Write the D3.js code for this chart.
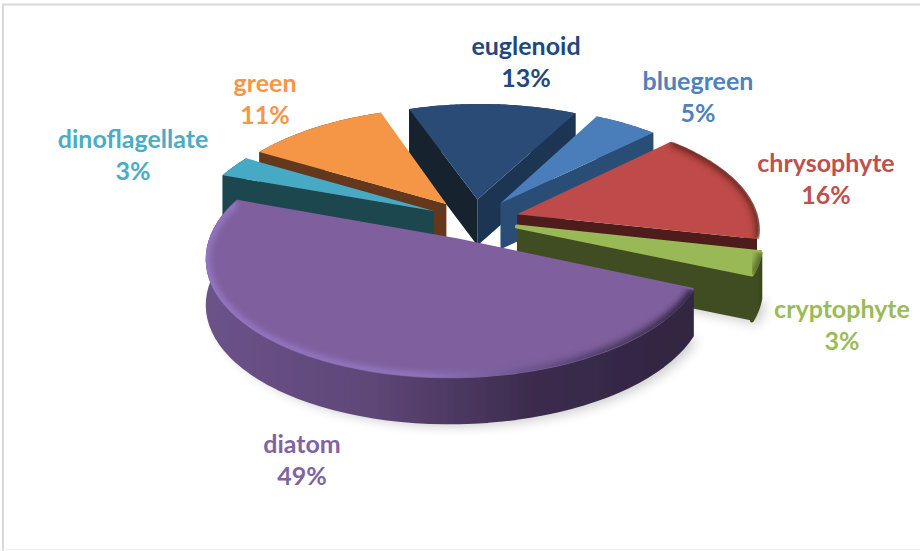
<!DOCTYPE html>
<html>
<head>
<meta charset="utf-8">
<script src="https://cdn.jsdelivr.net/npm/d3@7"></script>
<style>
  html, body { margin: 0; padding: 0; background: #fff; }
  text { font-family: Lato, sans-serif; font-weight: 700; font-size: 25px; text-anchor: middle; }
</style>
</head>
<body>
<div id="chart"></div>
<script>
// values, clockwise from the bluegreen slice
const categories = ["bluegreen", "chrysophyte", "cryptophyte", "diatom", "dinoflagellate", "green", "euglenoid"];
const percents = [5, 16, 3, 49, 3, 11, 13];

const topColors = ["#4a7ebb", "#be4b48", "#98b954", "#7f5f9e", "#46aac5", "#f49644", "#2a4c76"];
const wallColors = ["#2c4d75", "#4f1c1b", "#404e21", "#5a4372", "#1f4650", "#64391b", "#1e3452"];
const labelColors = ["#4f81bd", "#c0504d", "#9bbb59", "#8064a2", "#4bacc6", "#f79646", "#1f497d"];

const width = 920, height = 551;

// back slices first, diatom lies on top of everything
const drawOrder = ["euglenoid", "green", "dinoflagellate", "bluegreen", "chrysophyte", "cryptophyte", "diatom"];

// label centres, in pixels
const labelPos = {
  bluegreen: [698, 90],
  chrysophyte: [826, 172],
  cryptophyte: [842, 318],
  diatom: [302, 453],
  dinoflagellate: [133, 148],
  green: [265, 92],
  euglenoid: [526, 55]
};

const cx = 474, cy = 220;
const radius = 240, explode = 45, depth = 46;
const tilt = 0.47, persp = 0.13 / radius, skew = 0.015;

// slices with a rounded front edge
const rounded = ["diatom", "cryptophyte"];

const svg = d3.select("#chart").append("svg")
  .attr("width", width)
  .attr("height", height)
  .style("display", "block");

const defs = svg.append("defs");
defs.append("filter").attr("id", "blurBig")
  .attr("x", "-20%").attr("y", "-20%").attr("width", "140%").attr("height", "140%")
  .append("feGaussianBlur").attr("stdDeviation", 6);
defs.append("filter").attr("id", "blurRim")
  .attr("x", "-20%").attr("y", "-20%").attr("width", "140%").attr("height", "140%")
  .append("feGaussianBlur").attr("stdDeviation", 3);
defs.append("filter").attr("id", "soft")
  .attr("x", "-5%").attr("y", "-5%").attr("width", "110%").attr("height", "110%")
  .append("feGaussianBlur").attr("stdDeviation", 0.5);

// chart frame
svg.append("path")
  .attr("d", `M3,${height} V4.5 H${width}`)
  .attr("fill", "none").attr("stroke", "#d9d9d9").attr("stroke-width", 2);
svg.append("line")
  .attr("x1", 3).attr("x2", width).attr("y1", 549.5).attr("y2", 549.5)
  .attr("stroke", "#f2f2f2");

// ground plane -> screen, the wall height stays the same all round
function project(x, y, z) {
  const s = 1 / (1 + persp * y);
  return [cx + (x + skew * y) * s, cy - y * tilt * s + z];
}

const line = d3.line().curve(d3.curveLinearClosed);
const openLine = d3.line();

const arcs = d3.pie().sort(null).value(d => d)
  .startAngle(27 * Math.PI / 180)
  .endAngle((27 + 360) * Math.PI / 180)(percents);

const slices = arcs.map((a, i) => {
  const mid = (a.startAngle + a.endAngle) / 2;
  const ox = explode * Math.sin(mid), oy = explode * Math.cos(mid);
  const steps = d3.range(0, 61).map(k => a.startAngle + (a.endAngle - a.startAngle) * k / 60);
  const at = (r, t, z) => project(ox + r * Math.sin(t), oy + r * Math.cos(t), z);
  return {
    name: categories[i], i, a,
    apexTop: project(ox, oy, 0),
    apexBottom: project(ox, oy, depth),
    rimTop: steps.map(t => at(radius, t, 0)),
    rimBottom: steps.map(t => at(radius, t, depth)),
    rimOuter: steps.map(t => at(radius + 2, t, 0))
  };
});

// wall shading, left to right
const shade = {
  diatom: ["#6b5288", "#5f4778", "#3c2c4e", "#30253f"],
  cryptophyte: ["#404e21", "#404e21", "#404e21", "#3a471e"]
};
Object.entries(shade).forEach(([name, stops]) => {
  const g = defs.append("linearGradient").attr("id", "wall-" + name);
  stops.forEach((c, k) => g.append("stop").attr("offset", k / (stops.length - 1)).attr("stop-color", c));
});
const rimStops = defs.append("linearGradient").attr("id", "rim-diatom");
[["0", "#9478c4"], ["0.45", "#9277be"], ["0.72", "#5e4a7c"], ["1", "#2c2238"]]
  .forEach(d => rimStops.append("stop").attr("offset", d[0]).attr("stop-color", d[1]));

// signed area tells whether a side wall faces us
function facing(p) {
  return d3.polygonArea(p) > 0;
}

// soft shadow under the front slices
["diatom", "cryptophyte"].forEach(name => {
  const s = slices.find(d => d.name === name);
  svg.append("path")
    .attr("d", line(s.rimBottom.map(p => [p[0] + 6, p[1] + 4]).concat([s.apexBottom])))
    .attr("fill", "#000").attr("opacity", 0.2)
    .attr("filter", "url(#blurBig)");
});

drawOrder.forEach(name => {
  const s = slices.find(d => d.name === name);
  const g = svg.append("g").attr("class", "slice").attr("filter", "url(#soft)");
  const n = s.rimTop.length - 1;
  const round = rounded.includes(name);
  const wallFill = shade[name] ? `url(#wall-${name})` : wallColors[s.i];

  // outer wall
  g.append("path")
    .attr("d", line(s.rimTop.concat(s.rimBottom.slice().reverse())))
    .attr("fill", wallFill)
    .attr("stroke", round ? wallFill : "none").attr("stroke-width", 4).attr("stroke-linejoin", "round");

  // the two straight walls
  const startWall = [s.apexTop, s.rimTop[0], s.rimBottom[0], s.apexBottom];
  const endWall = [s.apexTop, s.apexBottom, s.rimBottom[n], s.rimTop[n]];
  if (facing(startWall)) {
    g.append("path").attr("d", line(startWall))
      .attr("fill", name === "euglenoid" ? "#12202f" : wallColors[s.i]);
  }
  if (facing(endWall)) {
    g.append("path").attr("d", line(endWall)).attr("fill", wallColors[s.i]);
  }

  // top face
  const top = [s.apexTop].concat(s.rimTop);
  g.append("path").attr("d", line(top))
    .attr("fill", topColors[s.i])
    .attr("stroke", round ? topColors[s.i] : "none").attr("stroke-width", 4).attr("stroke-linejoin", "round");

  // bevel along the rim, only on slices whose rim faces us
  const rimColor = { diatom: "url(#rim-diatom)", chrysophyte: "#6e2524", cryptophyte: "#55682b" }[name];
  if (rimColor) {
    const clipId = "clip-" + name;
    defs.append("clipPath").attr("id", clipId).append("path")
      .attr("d", line([s.apexTop].concat(s.rimOuter)));
    g.append("g").attr("clip-path", `url(#${clipId})`)
      .append("path")
      .attr("d", openLine(s.rimOuter))
      .attr("fill", "none")
      .attr("stroke", rimColor)
      .attr("stroke-width", 9)
      .attr("filter", "url(#blurRim)");
  }
});

// two line labels: name and percentage
const labels = svg.selectAll("g.label")
  .data(slices)
  .join("g")
  .attr("class", "label")
  .attr("fill", d => labelColors[d.i])
  .attr("transform", d => `translate(${labelPos[d.name][0]},${labelPos[d.name][1]})`);
labels.append("text").attr("y", 0).text(d => d.name);
labels.append("text").attr("y", 32).text(d => percents[d.i] + "%");
</script>
</body>
</html>
